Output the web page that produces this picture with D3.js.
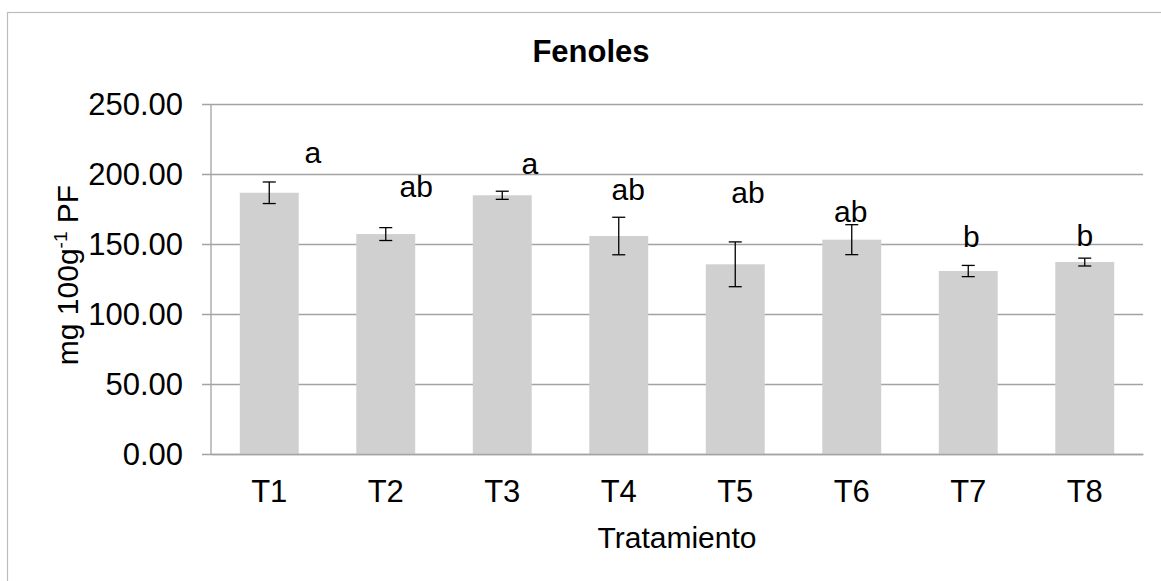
<!DOCTYPE html>
<html>
<head>
<meta charset="utf-8">
<script src="https://cdn.jsdelivr.net/npm/d3@7/dist/d3.min.js"></script>
<style>
  html, body { margin: 0; padding: 0; background: #fff; }
  svg { display: block; font-family: "Liberation Sans", Arial, sans-serif; }
</style>
</head>
<body>
<svg id="chart" width="1161" height="581"></svg>
<script>
// ---- data ----
const categories = ["T1", "T2", "T3", "T4", "T5", "T6", "T7", "T8"];
const means = [186.6, 157.1, 184.8, 155.7, 135.5, 153.1, 130.7, 137.1];
const errors = [7.7, 4.6, 2.9, 13.4, 16.0, 10.7, 4.0, 2.8];
const letters = ["a", "ab", "a", "ab", "ab", "ab", "b", "b"];
const yTicks = [0, 50, 100, 150, 200, 250];
const titleText = "Fenoles";
const xTitle = "Tratamiento";

// ---- layout (label placement, not data) ----
const letterAnchor = [207.9, 183.6, 200.0, 181.4, 179.3, 165.7, 147.9, 148.6];
const letterDx = [43.5, 30.5, 27.5, 9.5, 12.8, -1, 3, 0];

const svg = d3.select("#chart");
const W = 1161, H = 581;
const m = { left: 211, right: 1143, top: 104, bottom: 454 };

// outer chart border
svg.append("rect")
  .attr("x", 7.5).attr("y", 12.5)
  .attr("width", W + 20).attr("height", H + 20)
  .attr("fill", "#fff").attr("stroke", "#bdbdbd").attr("stroke-width", 1.2);

const x = d3.scaleBand().domain(categories).range([m.left, m.right]).paddingInner(0.494).paddingOuter(0.247);
const y = d3.scaleLinear().domain([0, 250]).range([m.bottom, m.top]);

// gridlines + y ticks via axis
const yAxis = d3.axisLeft(y).tickValues(yTicks)
  .tickSize(-(m.right - m.left)).tickPadding(19)
  .tickFormat(d3.format(".2f"));
const gy = svg.append("g").attr("transform", `translate(${m.left},0)`).call(yAxis);
gy.select(".domain").remove();
gy.selectAll(".tick line").attr("stroke", "#a3a3a3").attr("stroke-width", 1.3).attr("x2", m.right - m.left).attr("x1", -9);
gy.selectAll(".tick text").attr("font-size", 31).attr("fill", "#000").attr("dy", "0.35em").attr("x", -28);

// y axis line
svg.append("line").attr("x1", m.left).attr("x2", m.left).attr("y1", m.top).attr("y2", m.bottom)
  .attr("stroke", "#a3a3a3").attr("stroke-width", 1.3);

// bars
svg.append("g").selectAll("rect").data(categories).join("rect")
  .attr("x", d => x(d)).attr("width", x.bandwidth())
  .attr("y", (d, i) => y(means[i])).attr("height", (d, i) => y(0) - y(means[i]))
  .attr("fill", "#d1d0d1");

// x axis
const xAxis = d3.axisBottom(x).tickSize(0).tickPadding(26);
const gx = svg.append("g").attr("transform", `translate(0,${m.bottom})`).call(xAxis);
gx.select(".domain").attr("stroke", "#a3a3a3").attr("stroke-width", 1.3);
gx.selectAll(".tick text").attr("font-size", 31).attr("fill", "#000").attr("dy", "0.71em");

// error bars
const eb = svg.append("g").attr("stroke", "#000").attr("stroke-width", 1.3);
categories.forEach((c, i) => {
  const cx = x(c) + x.bandwidth() / 2;
  const y1 = y(means[i] + errors[i]), y2 = y(means[i] - errors[i]);
  eb.append("line").attr("x1", cx).attr("x2", cx).attr("y1", y1).attr("y2", y2);
  eb.append("line").attr("x1", cx - 6.5).attr("x2", cx + 6.5).attr("y1", y1).attr("y2", y1);
  eb.append("line").attr("x1", cx - 6.5).attr("x2", cx + 6.5).attr("y1", y2).attr("y2", y2);
});

// significance letters
svg.append("g").selectAll("text").data(categories).join("text")
  .attr("x", (d, i) => x(d) + x.bandwidth() / 2 + letterDx[i])
  .attr("y", (d, i) => y(letterAnchor[i]))
  .attr("text-anchor", "middle").attr("font-size", 30).attr("fill", "#000")
  .text((d, i) => letters[i]);

// title
svg.append("text").attr("x", (m.left + m.right) / 2 - 86).attr("y", 62)
  .attr("text-anchor", "middle").attr("font-size", 31).attr("font-weight", "bold")
  .text(titleText);

// x title
svg.append("text").attr("x", (m.left + m.right) / 2).attr("y", 548)
  .attr("text-anchor", "middle").attr("font-size", 30).text(xTitle);

// y title
const yt = svg.append("text")
  .attr("transform", `translate(78,${(m.top + m.bottom) / 2 - 4}) rotate(-90)`)
  .attr("text-anchor", "middle").attr("font-size", 30);
yt.append("tspan").text("mg 100g");
yt.append("tspan").attr("font-size", 19).attr("dy", -11).text("-1");
yt.append("tspan").attr("dy", 11).text(" PF");
</script>
</body>
</html>
